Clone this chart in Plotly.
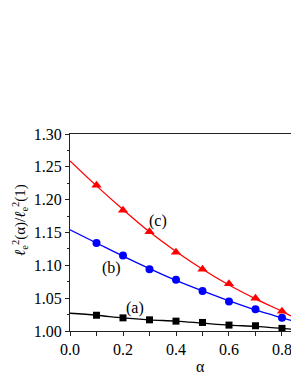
import plotly.graph_objects as go

alpha_pts = [0.1, 0.2, 0.3, 0.4, 0.5, 0.6, 0.7, 0.8]
a_pts = [1.024, 1.020, 1.017, 1.015, 1.013, 1.009, 1.008, 1.004]
b_pts = [1.134, 1.115, 1.094, 1.078, 1.061, 1.045, 1.033, 1.020]
c_pts = [1.222, 1.184, 1.151, 1.120, 1.094, 1.072, 1.050, 1.030]

alpha_line = [0.0, 0.1, 0.2, 0.3, 0.4, 0.5, 0.6, 0.7, 0.8, 0.834]
a_line = [1.027, 1.024, 1.020, 1.017, 1.015, 1.012, 1.009, 1.007, 1.004, 1.003]
b_line = [1.154, 1.134, 1.114, 1.095, 1.077, 1.061, 1.046, 1.032, 1.020, 1.016]
c_line = [1.259, 1.221, 1.185, 1.151, 1.121, 1.094, 1.070, 1.049, 1.030, 1.023]

x_ticks = [0.0, 0.2, 0.4, 0.6, 0.8]
x_ticklabels = ["0.0", "0.2", "0.4", "0.6", "0.8"]
y_ticks = [1.0, 1.05, 1.1, 1.15, 1.2, 1.25, 1.3]
y_ticklabels = ["1.00", "1.05", "1.10", "1.15", "1.20", "1.25", "1.30"]

FONT = "Liberation Serif, Times New Roman, serif"
fig = go.Figure()
series = [
    (a_line, a_pts, "black", "square", 7),
    (b_line, b_pts, "blue", "circle", 8),
    (c_line, c_pts, "red", "triangle-up", 9),
]
for yl, yp, col, sym, sz in series:
    fig.add_trace(go.Scatter(x=alpha_line, y=yl, mode="lines", line=dict(color=col, width=1.3, shape="spline"),
                             showlegend=False, hoverinfo="skip"))
    fig.add_trace(go.Scatter(x=alpha_pts, y=yp, mode="markers", marker=dict(color=col, symbol=sym, size=sz),
                             showlegend=False))

fig.update_layout(
    width=291, height=376,
    margin=dict(l=70, r=0, t=134, b=45),
    paper_bgcolor="white", plot_bgcolor="white",
    font=dict(family=FONT, size=16, color="black"),
    xaxis=dict(range=[0, 0.834], tickvals=x_ticks, ticktext=x_ticklabels, ticklabeloverflow="allow",
               showline=True, linecolor="#222", linewidth=1, mirror=True, showgrid=False, zeroline=False,
               ticks="outside", ticklen=4, tickcolor="#222",
               minor=dict(tickvals=[0.1, 0.3, 0.5, 0.7], ticks="outside", ticklen=4, tickcolor="#222")),
    yaxis=dict(range=[1.0, 1.3], tickvals=y_ticks, ticktext=y_ticklabels,
               showline=True, linecolor="#222", linewidth=1, showgrid=False, zeroline=False,
               ticks="outside", ticklen=4, tickcolor="#222",
               minor=dict(dtick=0.025, ticks="outside", ticklen=2, tickcolor="#222")),
)
fig.add_annotation(xref="paper", yref="paper", x=(200 - 70) / 221, y=-(366 - 331) / 197,
                   text="α", showarrow=False, xanchor="center", yanchor="middle", font=dict(size=16))
fig.add_annotation(xref="paper", yref="paper", x=-50 / 221, y=1 - (220 - 134) / 197,
                   text="<i>ℓ</i><sub>e</sub><sup>2</sup>(α)/<i>ℓ</i><sub>e</sub><sup>2</sup>(1)",
                   textangle=-90, showarrow=False, xanchor="center", yanchor="middle", font=dict(size=15))
fig.add_annotation(x=0.333, y=1.168, text="(c)", showarrow=False, font=dict(size=16))
fig.add_annotation(x=0.158, y=1.096, text="(b)", showarrow=False, font=dict(size=16))
fig.add_annotation(x=0.245, y=1.035, text="(a)", showarrow=False, font=dict(size=16))
fig.write_html("out.html", config={"displayModeBar": False},
               post_script="document.body.style.margin='0';document.body.style.overflow='hidden';")
